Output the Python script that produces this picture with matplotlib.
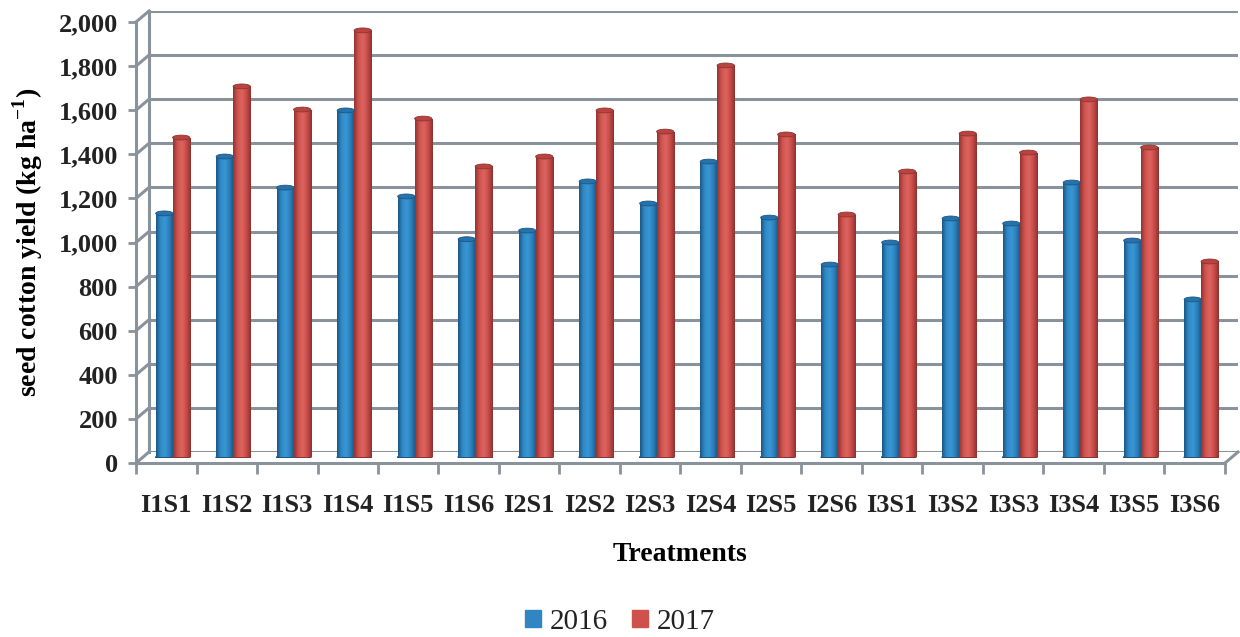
import numpy as np
import matplotlib.pyplot as plt
from matplotlib.patches import Ellipse, Rectangle, Patch
from matplotlib.colors import LinearSegmentedColormap

treatments = ["I1S1", "I1S2", "I1S3", "I1S4", "I1S5", "I1S6",
              "I2S1", "I2S2", "I2S3", "I2S4", "I2S5", "I2S6",
              "I3S1", "I3S2", "I3S3", "I3S4", "I3S5", "I3S6"]
yield_2016 = [1107, 1365, 1224, 1574, 1184, 990, 1029, 1252, 1152, 1342,
              1088, 875, 975, 1084, 1061, 1247, 984, 717]
yield_2017 = [1451, 1683, 1578, 1937, 1537, 1320, 1365, 1574, 1478, 1778,
              1465, 1102, 1297, 1469, 1383, 1624, 1406, 889]
years = ["2016", "2017"]
yticks = list(range(0, 2001, 200))

plt.rcParams['font.family'] = ['Liberation Serif', 'DejaVu Serif']
plt.rcParams['text.color'] = "#222222"
plt.rcParams['xtick.labelcolor'] = "#222222"
plt.rcParams['ytick.labelcolor'] = "#222222"

W, H = 1240, 637
fig = plt.figure(figsize=(W / 100, H / 100), dpi=100)

grid_col = "#8a939b"
n = len(treatments)


def add_plane(x0, x1, y0, y1):
    # pixel box (y measured from top) -> axes in figure fractions
    a = fig.add_axes([x0 / W, 1 - y0 / H, (x1 - x0) / W, (y0 - y1) / H])
    a.set_xlim(-0.5, n - 0.5)
    a.set_ylim(0, 2000)
    a.patch.set_visible(False)
    return a


# back wall, mid-depth (bars) and front plane of the 3-D box
ax_back = add_plane(149, 1238, 452, 11)
ax = add_plane(142.5, 1231.5, 457.5, 16.5)
ax_front = add_plane(136, 1225, 463, 22)

# back wall: gridlines + left edge
ax_back.set_yticks(yticks)
ax_back.yaxis.grid(True, color=grid_col, lw=2.2)
ax_back.set_xticks([])
ax_back.tick_params(left=False, labelleft=False)
for s in ["top", "right", "bottom"]:
    ax_back.spines[s].set_visible(False)
ax_back.spines["left"].set_color(grid_col)
ax_back.spines["left"].set_linewidth(2.2)

# front plane: value axis and category axis
for s in ["top", "right"]:
    ax_front.spines[s].set_visible(False)
for s in ["left", "bottom"]:
    ax_front.spines[s].set_color(grid_col)
    ax_front.spines[s].set_linewidth(2.2)
ax_front.set_yticks(yticks)
ax_front.set_yticklabels([f"{v:,}" for v in yticks], fontsize=19, fontweight="bold")
ax_front.set_xticks(np.arange(n))
ax_front.set_xticklabels(treatments, fontsize=19, fontweight="bold")
ax_front.set_xticks(np.arange(-0.5, n), minor=True)
ax_front.tick_params(axis="x", which="major", length=0, pad=22)
ax_front.tick_params(axis="x", which="minor", length=8, width=2, color=grid_col)
ax_front.tick_params(axis="y", length=6, width=2, color=grid_col, pad=7)
ax_front.set_xlabel("Treatments", fontsize=20, fontweight="bold", labelpad=18)
ax_front.set_ylabel("seed cotton yield (kg ha$^{\\mathregular{-1}}$)", fontsize=20,
                    fontweight="bold", labelpad=10)

# depth connectors (front -> back) in mid-plane data units
ddx = 6.5 / (1089 / n)
ddy = 5.5 / (441 / 2000)
ax.set_axis_off()
for v in yticks:
    ax.plot([-0.5 - ddx, -0.5 + ddx], [v - ddy, v + ddy], color=grid_col, lw=2.2,
            clip_on=False, zorder=1)
ax.plot([n - 0.5 - ddx, n - 0.5 + ddx], [-ddy, ddy], color=grid_col, lw=2.2,
        clip_on=False, zorder=1)

# cylinder bars
series = [
    (yield_2016, ["#1c5684", "#2f8bc8", "#3a97d3", "#2a7fba", "#1b507c"], "#2672aa", -0.14),
    (yield_2017, ["#8e3432", "#d2534f", "#dc6561", "#c94b48", "#8a3230"], "#b9443f", 0.14),
]
bw = 0.285
cap_h = 22
for vals, cols, cap_col, off in series:
    cmap = LinearSegmentedColormap.from_list("cyl", cols)
    grad = np.linspace(0, 1, 64).reshape(1, -1)
    for i, v in enumerate(vals):
        x0 = i + off - bw / 2
        ax.add_patch(Ellipse((i + off, 0), bw, cap_h, color=cols[0], zorder=2))
        rect = Rectangle((x0, 0), bw, v, facecolor="none", edgecolor="none")
        ax.add_patch(rect)
        im = ax.imshow(grad, cmap=cmap, extent=(x0, x0 + bw, 0, v), aspect="auto",
                       zorder=3, interpolation="bicubic")
        im.set_clip_path(rect)
        ax.add_patch(Ellipse((i + off, v), bw, cap_h, facecolor=cap_col,
                             edgecolor=cols[0], lw=0.6, zorder=4))
ax.set_xlim(-0.5, n - 0.5)
ax.set_ylim(0, 2000)

handles = [Patch(color="#2f86c3", label=years[0]), Patch(color="#d0504c", label=years[1])]
fig.legend(handles=handles, loc="center", bbox_to_anchor=(0.5, 1 - 622 / H), ncol=2,
           frameon=False, fontsize=21, handlelength=0.55, handleheight=0.55,
           handletextpad=0.3, columnspacing=0.8)

fig.savefig("out.png", dpi=100)
